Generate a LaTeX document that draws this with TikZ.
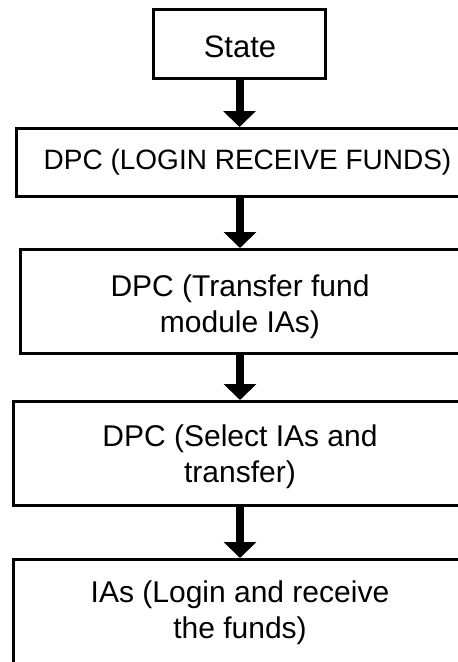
\documentclass[tikz,border=0pt]{standalone}
\usepackage{fontspec}
\setmainfont{Liberation Sans}
\usetikzlibrary{arrows.meta}
\tikzset{
  box/.style={draw=black, line width=3pt, fill=white, inner sep=0pt},
  txt/.style={inner sep=0pt, align=center, font=\fontsize{30}{36}\selectfont},
  arr/.style={line width=8pt, -{Triangle[width=32pt,length=16pt]}}
}
\begin{document}
\begin{tikzpicture}[x=1pt,y=-1pt]
\useasboundingbox (0,0) rectangle (458,662);
\clip (0,0) rectangle (458,662);
\fill[white] (0,0) rectangle (458,662);
% boxes
\node[box, minimum width=172pt, minimum height=69pt] (state) at (239.5,44) {};
\node[box, minimum width=464pt, minimum height=68pt] (b2) at (248,162.5) {};
\node[box, minimum width=440pt, minimum height=104pt] (b3) at (240,301.5) {};
\node[box, minimum width=454pt, minimum height=104pt] (b4) at (240,453.5) {};
\node[box, minimum width=454pt, minimum height=109pt] (b5) at (240,614) {};
% texts
\node[txt, font=\fontsize{31}{36}\selectfont] (t1) at (240,46.5) {State};
\node[txt, font=\fontsize{28}{34}\selectfont] (t2) at (247.5,162.5) {DPC (LOGIN RECEIVE FUNDS)};
\node[txt] (t3) at (240,307) {DPC (Transfer fund\\module IAs)};
\node[txt] (t4) at (240,457) {DPC (Select IAs and\\transfer)};
\node[txt] (t5) at (240,613) {IAs (Login and receive\\the funds)};
% arrows
\draw[arr] (state.south) -- (state.south |- b2.north);
\draw[arr] (b2.south -| b3.north) -- (b3.north);
\draw[arr] (b3.south) -- (b4.north);
\draw[arr] (b4.south) -- (b5.north);
\end{tikzpicture}
\end{document}
